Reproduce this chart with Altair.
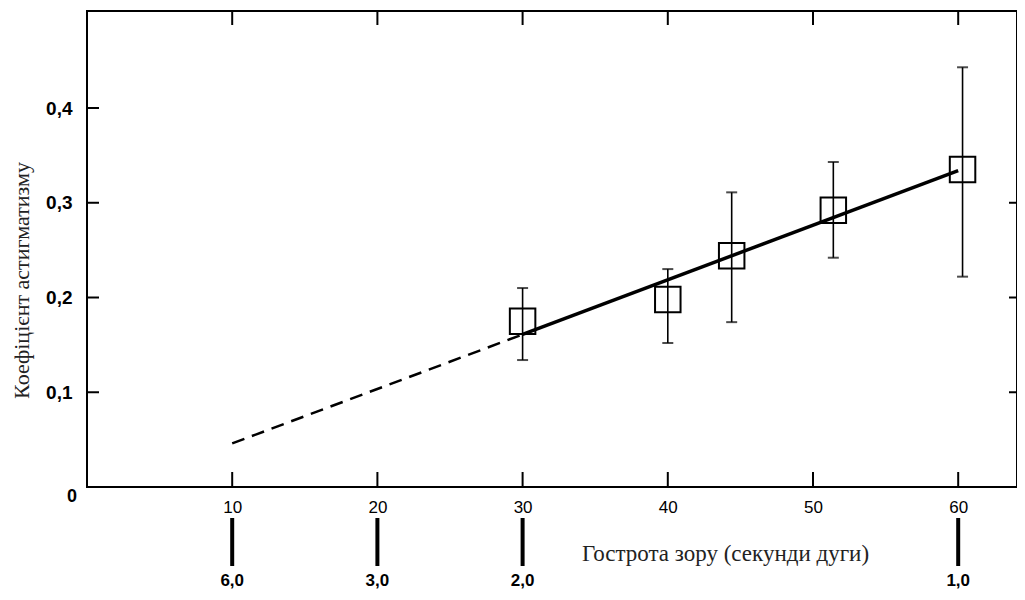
import altair as alt
import pandas as pd

# data points (visual acuity in arc-seconds vs. astigmatism coefficient)
px = [30, 40, 44.4, 51.4, 60.3]
py = [0.175, 0.198, 0.244, 0.292, 0.335]
plo = [0.134, 0.152, 0.174, 0.242, 0.222]
phi = [0.21, 0.23, 0.311, 0.343, 0.443]

# fitted line: dashed extrapolation and solid part
dash_x = [10, 30]
dash_y = [0.046, 0.161]
solid_x = [30, 60]
solid_y = [0.161, 0.334]

# axis ticks
x_ticks = [10, 20, 30, 40, 50, 60]
y_ticks = [0.1, 0.2, 0.3, 0.4]
y_ticks_right = [0.1, 0.2, 0.3]

# secondary scale under the x axis
sec_x = [10, 20, 30, 60]
sec_labels = ["6,0", "3,0", "2,0", "1,0"]

W, H = 930, 476
xs = alt.Scale(domain=[0, 64.05], nice=False, zero=False)
ys = alt.Scale(domain=[0, 0.5024], nice=False, zero=False)

xaxis = alt.Axis(values=x_ticks, format="d", domain=False, ticks=False, grid=False,
                 labelFont="Liberation Sans", labelFontSize=17, labelColor="black",
                 labelPadding=12, labelFlush=False,
                 title="Гострота зору (секунди дуги)", titleFont="Liberation Serif",
                 titleFontSize=23, titleFontWeight="normal", titleColor="#222222",
                 titleX=638, titleY=66, titleAlign="center", titleBaseline="middle")
yaxis = alt.Axis(values=y_ticks, format=".1f", labelExpr="replace(datum.label, '.', ',')",
                 domain=False, ticks=False, grid=False,
                 labelFont="Liberation Sans", labelFontSize=19, labelFontWeight="bold",
                 labelColor="black", labelPadding=15, labelFlush=False,
                 title="Коефіцієнт астигматизму", titleFont="Liberation Serif",
                 titleFontSize=22, titleFontWeight="normal", titleColor="#222222",
                 titleX=-66, titleY=269, titleAngle=270, titleAlign="center",
                 titleBaseline="middle")


def X(f):
    return alt.X(f, type="quantitative", scale=xs, axis=xaxis)


def Y(f):
    return alt.Y(f, type="quantitative", scale=ys, axis=yaxis)


pts = pd.DataFrame({"x": px, "y": py, "lo": plo, "hi": phi})
dash_df = pd.DataFrame({"x": dash_x, "y": dash_y})
solid_df = pd.DataFrame({"x": solid_x, "y": solid_y})
xt = pd.DataFrame({"x": x_ticks})
yt = pd.DataFrame({"y": y_ticks})
ytr = pd.DataFrame({"y": y_ticks_right})
sec = pd.DataFrame({"x": sec_x, "label": sec_labels})
zero = pd.DataFrame({"x": [0], "y": [0], "label": ["0"]})

bottom_ticks = alt.Chart(xt).mark_rule(color="black", strokeWidth=2).encode(
    x=X("x"), y=alt.value(H), y2=alt.value(H - 15))
top_ticks = alt.Chart(xt).mark_rule(color="black", strokeWidth=2).encode(
    x=X("x"), y=alt.value(0), y2=alt.value(14))
left_ticks = alt.Chart(yt).mark_rule(color="black", strokeWidth=2).encode(
    y=Y("y"), x=alt.value(0), x2=alt.value(12))
right_ticks = alt.Chart(ytr).mark_rule(color="black", strokeWidth=2).encode(
    y=Y("y"), x=alt.value(W), x2=alt.value(W - 8))

dashed = alt.Chart(dash_df).mark_line(color="black", strokeWidth=2.5, strokeDash=[13, 8]).encode(
    x=X("x"), y=Y("y"))
solid = alt.Chart(solid_df).mark_line(color="black", strokeWidth=3.5).encode(
    x=X("x"), y=Y("y"))

err = alt.Chart(pts).mark_rule(color="black", strokeWidth=1.6).encode(
    x=X("x"), y=Y("lo"), y2="hi")
cap_hi = alt.Chart(pts).mark_tick(color="black", orient="horizontal", size=11, thickness=2).encode(
    x=X("x"), y=Y("hi"))
cap_lo = alt.Chart(pts).mark_tick(color="black", orient="horizontal", size=11, thickness=2).encode(
    x=X("x"), y=Y("lo"))
squares = alt.Chart(pts).mark_point(shape="square", size=650, filled=False, color="black",
                                    strokeWidth=2, opacity=1).encode(x=X("x"), y=Y("y"))

sec_bars = alt.Chart(sec).mark_rule(color="black", strokeWidth=4).encode(
    x=X("x"), y=alt.value(507), y2=alt.value(555))
sec_text = alt.Chart(sec).mark_text(font="Liberation Sans", fontSize=17, fontWeight="bold",
                                    color="black", baseline="middle").encode(
    x=X("x"), y=alt.value(570), text="label")
zero_text = alt.Chart(zero).mark_text(font="Liberation Sans", fontSize=18, fontWeight="bold",
                                      color="black", baseline="middle", dx=-15, dy=10).encode(
    x=X("x"), y=Y("y"), text="label")

chart = alt.layer(
    bottom_ticks, top_ticks, left_ticks, right_ticks,
    dashed, solid, err, cap_hi, cap_lo, squares,
    sec_bars, sec_text, zero_text,
).properties(
    width=W, height=H,
    autosize=alt.AutoSizeParams(type="none"),
    padding={"left": 79, "top": 3, "right": 0, "bottom": 105},
).configure(
    background="white",
    view=alt.ViewConfig(stroke="black", strokeWidth=2),
)

chart.save("out.html", embed_options={"renderer": "svg", "actions": False})
